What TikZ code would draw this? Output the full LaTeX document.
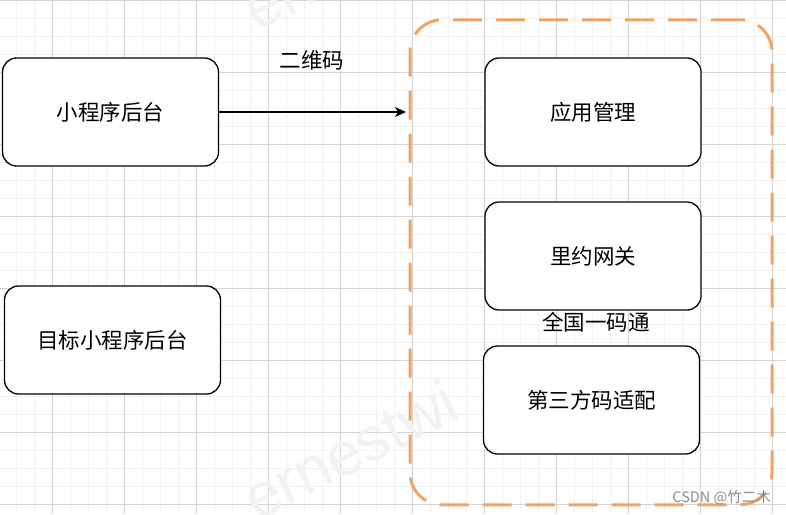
\documentclass[tikz,border=0pt]{standalone}
\usepackage{fontspec}
\setmainfont{Noto Sans CJK SC}
\newfontfamily\cjk{Noto Sans CJK SC}
\newfontfamily\wmfont{Liberation Sans}
\usetikzlibrary{arrows.meta}
\definecolor{minorgrid}{HTML}{F1F1F1}
\definecolor{majorgrid}{HTML}{D3D3D3}
\definecolor{dashorange}{HTML}{EDA466}
\definecolor{wmgray}{HTML}{F2F2F2}
\tikzset{
  box/.style={draw=black, line width=1.3pt, fill=white, rounded corners=14pt,
    minimum width=216pt, minimum height=108pt, inner sep=0pt,
    font=\cjk\fontsize{21.5}{25}\selectfont},
  lbl/.style={font=\cjk\fontsize{21.5}{25}\selectfont, inner sep=0pt},
  groupbox/.style={draw=dashorange, line width=3pt, rounded corners=32pt,
    dash pattern=on 29pt off 14pt, minimum width=362pt, minimum height=485pt, inner sep=0pt},
  conn/.style={line width=1.3pt, -{Stealth[length=11pt,width=10pt,inset=3pt]}},
  wm/.style={font=\wmfont\fontsize{62}{70}\selectfont, text=wmgray, rotate=27, anchor=base west, inner sep=0pt}
}
\begin{document}
\begin{tikzpicture}[x=1pt,y=-1pt]
\useasboundingbox (0,0) rectangle (786,514);
\fill[white] (0,0) rectangle (786,514);
% minor grid
\foreach \i in {0,...,44} {
  \draw[minorgrid, line width=1.5pt] ({-1.7+18*\i},0) -- ({-1.7+18*\i},514);
}
\foreach \j in {0,...,28} {
  \draw[minorgrid, line width=1.5pt] (0,{0.3+18*\j}) -- (786,{0.3+18*\j});
}
% major grid
\foreach \i in {0,...,10} {
  \draw[majorgrid, line width=1pt] ({52.3+72*\i},0) -- ({52.3+72*\i},514);
}
\foreach \j in {0,...,7} {
  \draw[majorgrid, line width=1pt] (0,{0.3+72*\j}) -- (786,{0.3+72*\j});
}
% watermarks
\node[wm] (wm1) at (257,522) {ernestwi};
\node[wm] (wm2) at (257,32) {ernestwi};
% group container
\node[groupbox] (grp) at (591,262.3) {};
% boxes
\node[box] (a) at (110.5,112) {小程序后台};
\node[box] (b) at (112.5,340) {目标小程序后台};
\node[box] (c) at (593,112) {应用管理};
\node[box] (d) at (593,256) {里约网关};
\node[box] (e) at (591.5,400) {第三方码适配};
% connector
\coordinate (tip) at (406,112);
\draw[conn] (a.east) -- (tip);
% labels
\node[lbl] (qr) at (312,60) {二维码};
\node[lbl] (ym) at (596,322) {全国一码通};
% CSDN mark
\node[font=\cjk\fontsize{14.5}{16}\selectfont, text=black!45, anchor=east, inner sep=0pt] (csdn) at (771,497.5) {CSDN @竹二木};
\end{tikzpicture}
\end{document}
